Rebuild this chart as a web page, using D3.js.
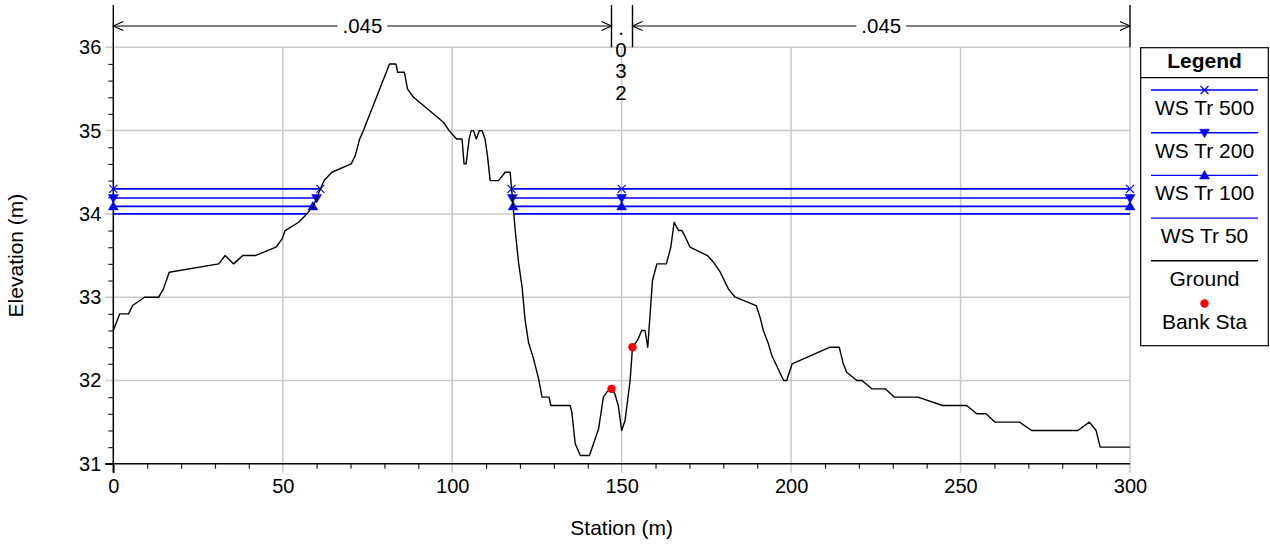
<!DOCTYPE html>
<html>
<head>
<meta charset="utf-8">
<script src="https://cdn.jsdelivr.net/npm/d3@7"></script>
<style>
  html, body { margin: 0; padding: 0; background: #fff; }
  svg { display: block; font-family: Arial, "Liberation Sans", sans-serif; }
</style>
</head>
<body>
<svg id="chart" width="1270" height="548"></svg>
<script>
// ---------- DATA ----------
const groundSta = [0, 1.9, 4.5, 5.7, 9.2, 13.4, 14.8, 16.5, 31.1, 33.0, 35.5, 38.2, 41.9, 48.0, 49.8, 50.7,
  54.7, 57.1, 59.1, 61.1, 62.2, 64.5, 70.2, 71.4, 72.7, 73.8, 81.5, 83.4, 83.9, 85.9, 86.8, 88.6,
  97.4, 99.1, 101.3, 102.9, 103.5, 104.1, 105.0, 105.6, 106.3, 107.1, 108.0, 108.8, 109.7, 110.4, 111.2,
  113.7, 115.6, 117.1, 118.6, 119.6, 120.6, 121.5, 122.5, 124.0, 125.5, 126.5, 128.6, 129.1, 134.8,
  135.3, 136.3, 137.8, 140.5, 143.2, 144.6, 145.8, 147.0, 148.0, 149.0, 150.0, 151.0, 152.5, 153.2,
  154.9, 155.9, 156.9, 157.7, 159.1, 160.4, 163.2, 164.5, 165.5, 166.8, 167.8, 168.7, 170.2, 175.3,
  177.1, 179.1, 181.5, 183.5, 189.7, 190.9, 191.8, 193.3, 194.3, 197.8, 198.7, 200.3, 211.5, 214.2,
  215.4, 216.4, 219.4, 220.9, 223.8, 227.8, 230.5, 237.4, 244.7, 251.8, 254.8, 257.5, 260.2, 267.4,
  271.0, 284.6, 288.0, 290.0, 291.2, 300];
const groundElev = [32.6, 32.8, 32.8, 32.9, 33.0, 33.0, 33.1, 33.3, 33.4, 33.5, 33.4, 33.5, 33.5, 33.6, 33.7, 33.8,
  33.9, 34.0, 34.1, 34.3, 34.4, 34.5, 34.6, 34.7, 34.9, 35.0, 35.8, 35.8, 35.7, 35.7, 35.5, 35.4,
  35.1, 35.0, 34.9, 34.9, 34.6, 34.6, 34.9, 35.0, 35.0, 34.9, 35.0, 35.0, 34.9, 34.7, 34.4,
  34.4, 34.5, 34.5, 33.8, 33.41, 33.13, 32.73, 32.46, 32.26, 32.02, 31.8, 31.8, 31.7, 31.7,
  31.62, 31.24, 31.1, 31.1, 31.42, 31.8, 31.87, 31.9, 31.84, 31.7, 31.4, 31.52, 32.0, 32.4,
  32.5, 32.6, 32.6, 32.4, 33.2, 33.4, 33.4, 33.6, 33.9, 33.8, 33.8, 33.73, 33.6, 33.5,
  33.42, 33.3, 33.1, 33.0, 32.9, 32.75, 32.6, 32.44, 32.3, 32.0, 32.0, 32.2, 32.4, 32.4,
  32.2, 32.1, 32.0, 32.0, 31.9, 31.9, 31.8, 31.8, 31.7, 31.7, 31.6, 31.6, 31.5, 31.5,
  31.4, 31.4, 31.5, 31.4, 31.2, 31.2];

const bankSta = [147.0, 153.2];
const bankElev = [31.9, 32.4];

const wsNames = ["WS Tr 500", "WS Tr 200", "WS Tr 100", "WS Tr 50"];
const wsElev = [34.3, 34.19, 34.09, 34.0];
const wsLeftEnd = [61.1, 60.0, 58.9, 57.1];
const wsRightStart = [117.5, 117.76, 117.97, 118.17];
const wsMarker = ["x", "down", "up", "none"];
const wsMarkerExtraSta = [150];

const roughBreaks = [0, 147.0, 153.2, 300];
const roughLabels = [".045", ".032", ".045"];

const xTicks = [0, 50, 100, 150, 200, 250, 300];
const yTicks = [31, 32, 33, 34, 35, 36];
const xLabel = "Station (m)";
const yLabel = "Elevation (m)";
const legendTitle = "Legend";

// ---------- LAYOUT ----------
const svg = d3.select("#chart");
const x = d3.scaleLinear().domain([0, 300]).range([113.3, 1130]);
const y = d3.scaleLinear().domain([31, 36]).range([463.8, 47.3]);
const BLUE = "#0000ff";
const GRID = "#c8c8c8";

// grid lines (extend past axes as ticks)
const grid = svg.append("g");
grid.selectAll("line.vg").data(xTicks.filter(d => d > 0)).enter().append("line")
  .attr("x1", d => x(d)).attr("x2", d => x(d))
  .attr("y1", y(36)).attr("y2", y(31) + 9)
  .attr("stroke", GRID).attr("stroke-width", 1.5);
grid.selectAll("line.hg").data(yTicks.filter(d => d > 31)).enter().append("line")
  .attr("x1", x(0) - 8).attr("x2", x(300))
  .attr("y1", d => y(d)).attr("y2", d => y(d))
  .attr("stroke", GRID).attr("stroke-width", 1.5);

// minor ticks
const minorX = d3.range(0, 301, 10).filter(d => d % 50 !== 0);
const minorY = d3.range(31, 36.001, 0.2).filter(d => Math.abs(d - Math.round(d)) > 0.01);
svg.append("g").attr("transform", `translate(0,${y(31)})`)
  .call(d3.axisBottom(x).tickValues(minorX).tickSize(5).tickFormat(""))
  .call(g => g.select(".domain").remove())
  .selectAll("line").attr("stroke", "#222").attr("stroke-width", 1.2);
svg.append("g").attr("transform", `translate(${x(0)},0)`)
  .call(d3.axisLeft(y).tickValues(minorY).tickSize(5).tickFormat(""))
  .call(g => g.select(".domain").remove())
  .selectAll("line").attr("stroke", "#222").attr("stroke-width", 1.2);

// major axes with labels
const xAxis = svg.append("g").attr("transform", `translate(0,${y(31)})`)
  .call(d3.axisBottom(x).tickValues(xTicks).tickSize(9).tickPadding(6).tickFormat(d3.format("d")));
xAxis.select(".domain").remove();
xAxis.selectAll(".tick line").attr("stroke", d => d === 0 ? "#000" : "none").attr("stroke-width", 1.5);
xAxis.selectAll("text").attr("font-size", 20).attr("fill", "#000").attr("font-family", 'Arial, "Liberation Sans", sans-serif');

const yAxis = svg.append("g").attr("transform", `translate(${x(0)},0)`)
  .call(d3.axisLeft(y).tickValues(yTicks).tickSize(8).tickPadding(4).tickFormat(d3.format("d")));
yAxis.select(".domain").remove();
yAxis.selectAll(".tick line").attr("stroke", d => d === 31 ? "#000" : "none").attr("stroke-width", 1.5);
yAxis.selectAll("text").attr("font-size", 20).attr("fill", "#000").attr("font-family", 'Arial, "Liberation Sans", sans-serif');

// axis lines
svg.append("line").attr("x1", x(0) - 8).attr("x2", x(300)).attr("y1", y(31)).attr("y2", y(31))
  .attr("stroke", "#000").attr("stroke-width", 1.5);
svg.append("line").attr("x1", x(0)).attr("x2", x(0)).attr("y1", y(36)).attr("y2", y(31) + 9)
  .attr("stroke", "#000").attr("stroke-width", 1.5);

// axis titles
svg.append("text").attr("x", x(150)).attr("y", 535).attr("text-anchor", "middle")
  .attr("font-size", 21).text(xLabel);
svg.append("text").attr("transform", `translate(23,${y(33.5)}) rotate(-90)`).attr("text-anchor", "middle")
  .attr("font-size", 21).text(yLabel);

// ---------- WATER SURFACES ----------
function markerPath(type) {
  if (type === "x") return "M-4,-4L4,4M-4,4L4,-4";
  if (type === "down") return "M-5,-3.5L5,-3.5L0,5Z";
  if (type === "up") return "M-5,3.5L5,3.5L0,-5Z";
  return null;
}
const wsG = svg.append("g");
wsElev.forEach((e, i) => {
  const segs = [[0, wsLeftEnd[i]], [wsRightStart[i], 300]];
  segs.forEach(s => {
    wsG.append("line").attr("x1", x(s[0])).attr("x2", x(s[1]))
      .attr("y1", y(e)).attr("y2", y(e))
      .attr("stroke", BLUE).attr("stroke-width", 1.6);
  });
});
wsElev.forEach((e, i) => {
  const p = markerPath(wsMarker[i]);
  if (!p) return;
  const stations = [0, wsLeftEnd[i], wsRightStart[i]].concat(wsMarkerExtraSta, [300]);
  stations.forEach(st => {
    wsG.append("path").attr("d", p)
      .attr("transform", `translate(${x(st)},${y(e)})`)
      .attr("fill", wsMarker[i] === "x" ? "none" : BLUE)
      .attr("stroke", BLUE).attr("stroke-width", wsMarker[i] === "x" ? 1.2 : 0.5);
  });
});

// ---------- GROUND ----------
const groundData = groundSta.map((s, i) => [s, groundElev[i]]);
svg.append("path").datum(groundData)
  .attr("d", d3.line().x(d => x(d[0])).y(d => y(d[1])))
  .attr("fill", "none").attr("stroke", "#000").attr("stroke-width", 1.4).attr("stroke-linejoin", "round");

// bank stations
svg.selectAll("circle.bank").data(bankSta.map((s, i) => [s, bankElev[i]])).enter().append("circle")
  .attr("cx", d => x(d[0])).attr("cy", d => y(d[1])).attr("r", 4.2).attr("fill", "#ff0000");

// ---------- ROUGHNESS (top) ----------
const topG = svg.append("g");
const arrowY = 26;
roughBreaks.forEach(b => {
  topG.append("line").attr("x1", x(b)).attr("x2", x(b)).attr("y1", 5).attr("y2", y(36))
    .attr("stroke", "#000").attr("stroke-width", 1.4);
});
function chevron(tipX, dir) { // dir = -1 points left, +1 points right
  topG.append("path")
    .attr("d", `M${tipX - dir * 10},${arrowY - 4.5}L${tipX},${arrowY}L${tipX - dir * 10},${arrowY + 4.5}`)
    .attr("fill", "none").attr("stroke", "#000").attr("stroke-width", 1.1);
}
roughLabels.forEach((lab, i) => {
  const a = x(roughBreaks[i]), b = x(roughBreaks[i + 1]);
  const cx = (a + b) / 2;
  if (b - a > 80) {
    const t = topG.append("text").attr("x", cx).attr("y", arrowY + 7).attr("text-anchor", "middle")
      .attr("font-size", 20.5).text(lab);
    const w = t.node().getComputedTextLength();
    topG.append("line").attr("x1", a).attr("x2", cx - w / 2 - 5).attr("y1", arrowY).attr("y2", arrowY)
      .attr("stroke", "#000").attr("stroke-width", 1.1);
    topG.append("line").attr("x1", cx + w / 2 + 5).attr("x2", b).attr("y1", arrowY).attr("y2", arrowY)
      .attr("stroke", "#000").attr("stroke-width", 1.1);
    chevron(a, -1);
    chevron(b, 1);
  } else {
    lab.split("").forEach((ch, k) => {
      topG.append("text").attr("x", cx - 1).attr("y", 35 + k * 21.5).attr("text-anchor", "middle")
        .attr("font-size", 20.5).text(ch);
    });
  }
});

// ---------- LEGEND ----------
const lg = svg.append("g");
const L = { x0: 1140.7, x1: 1268.3, y0: 47.7, y1: 345.7 };
const lcx = (L.x0 + L.x1) / 2;
lg.append("rect").attr("x", L.x0).attr("y", L.y0).attr("width", L.x1 - L.x0).attr("height", L.y1 - L.y0)
  .attr("fill", "#fff").attr("stroke", "#000").attr("stroke-width", 1.2);
lg.append("line").attr("x1", L.x0).attr("x2", L.x1).attr("y1", 77.7).attr("y2", 77.7)
  .attr("stroke", "#000").attr("stroke-width", 1.2);
lg.append("text").attr("x", lcx).attr("y", 68).attr("text-anchor", "middle")
  .attr("font-size", 21).attr("font-weight", "bold").text(legendTitle);

const legendItems = wsNames.map((n, i) => ({ name: n, kind: "ws", marker: wsMarker[i] }))
  .concat([{ name: "Ground", kind: "ground" }, { name: "Bank Sta", kind: "bank" }]);
legendItems.forEach((it, i) => {
  const ly = 90 + i * 42.7;
  if (it.kind === "ws" || it.kind === "ground") {
    lg.append("line").attr("x1", 1151).attr("x2", 1258).attr("y1", ly).attr("y2", ly)
      .attr("stroke", it.kind === "ws" ? BLUE : "#000").attr("stroke-width", 1.4);
  }
  if (it.kind === "ws") {
    const p = markerPath(it.marker);
    if (p) lg.append("path").attr("d", p).attr("transform", `translate(${lcx},${ly})`)
      .attr("fill", it.marker === "x" ? "none" : BLUE).attr("stroke", BLUE)
      .attr("stroke-width", it.marker === "x" ? 1.2 : 0.5);
  }
  if (it.kind === "bank") {
    lg.append("circle").attr("cx", lcx).attr("cy", ly).attr("r", 4.2).attr("fill", "#ff0000");
  }
  lg.append("text").attr("x", lcx).attr("y", ly + 25).attr("text-anchor", "middle")
    .attr("font-size", 21).text(it.name);
});
</script>
</body>
</html>
